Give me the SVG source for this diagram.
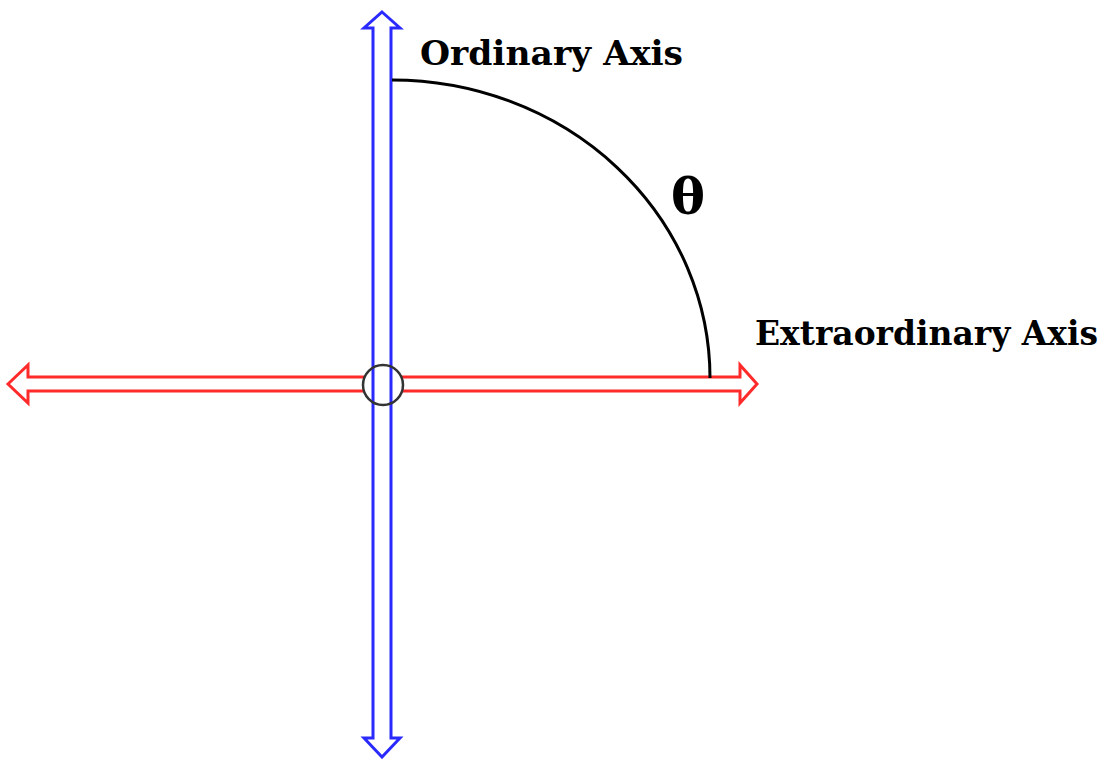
<svg xmlns="http://www.w3.org/2000/svg" width="1106" height="759" viewBox="0 0 1106 759">
<style>
.lbl{font-family:"DejaVu Serif","Liberation Serif",serif;font-weight:bold;fill:#000}
.harrow{fill:#fff;stroke:#ff2a2a;stroke-width:3;stroke-linejoin:miter}
.varrow{fill:#fff;stroke:#2a2aff;stroke-width:3;stroke-linejoin:miter}
</style>
<rect width="1106" height="759" fill="#fff"/>
<g id="extraordinary-axis">
<path class="harrow" d="M8,384 L28,365 L28,377 L740,377 L740,365 L757,384 L740,403 L740,391 L28,391 L28,403 Z"/>
</g>
<g id="origin-fill">
<circle cx="383" cy="385" r="20" fill="#fff"/>
</g>
<g id="ordinary-axis">
<path class="varrow" d="M382,12 L400,28 L391,28 L391,738 L400,738 L382,757 L364,738 L373,738 L373,28 L364,28 Z"/>
</g>
<g id="origin">
<circle cx="383" cy="385" r="20" fill="none" stroke="#333" stroke-width="2.5"/>
</g>
<g id="connectors">
<path d="M392,80 A318,298 0 0 1 710,378" fill="none" stroke="#000" stroke-width="3"/>
</g>
<g id="labels">
<text class="lbl" x="420" y="65" font-size="33" textLength="263" lengthAdjust="spacingAndGlyphs">Ordinary Axis</text>
<text class="lbl" x="755" y="345" font-size="33" textLength="343" lengthAdjust="spacingAndGlyphs">Extraordinary Axis</text>
<text class="lbl" x="671" y="214" font-size="50" textLength="34" lengthAdjust="spacingAndGlyphs">θ</text>
</g>
</svg>
